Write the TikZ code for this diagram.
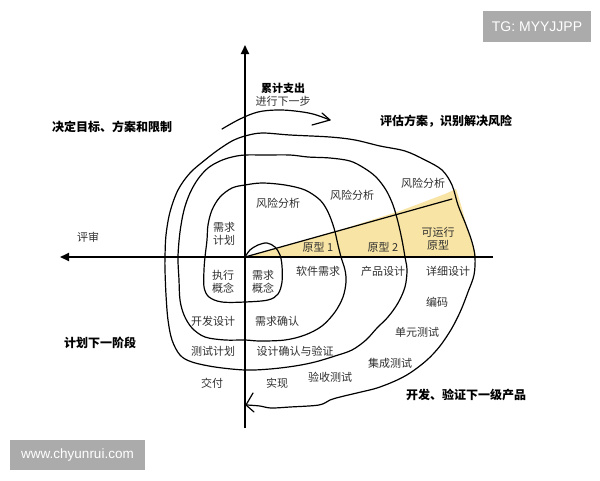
\documentclass[tikz,border=0pt]{standalone}
\usepackage{fontspec}
\setmainfont{Noto Sans CJK SC}
\newfontfamily\latinfont{Liberation Sans}
\usetikzlibrary{arrows.meta}
\definecolor{hlyellow}{HTML}{F8E4A4}
\definecolor{badgegray}{HTML}{ABABAB}
\definecolor{lblgray}{HTML}{303030}
\begin{document}
\begin{tikzpicture}[x=1pt,y=-1pt,
  curve/.style={line width=1.2pt, black, line join=round, line cap=round},
  axis/.style={line width=1.8pt, black},
  lbl/.style={font=\fontsize{11}{12.5}\selectfont, text=lblgray, inner sep=0pt, align=center},
  head/.style={font=\fontsize{12}{14}\selectfont\bfseries, text=black, inner sep=0pt, align=center},
  badge/.style={fill=badgegray, text=white, inner sep=0pt}]
\useasboundingbox (0,0) rectangle (600,480);
\fill[white] (0,0) rectangle (600,480);

% highlighted prototype wedge
\fill[hlyellow] (248,256) -- (340,230) -- (400,211) -- (445,194) -- (456,189) -- (461,205)
  -- (467,227) -- (473,245) -- (476,257) -- cycle;

% axes
\coordinate (O) at (245,257);
\coordinate (ytop) at (245,45);
\coordinate (ybot) at (245,428);
\coordinate (xl) at (60,257);
\coordinate (xr) at (493,257);
\draw[axis,-{Triangle[length=9pt,width=8pt]}] (ybot) -- (ytop);
\draw[axis,-{Triangle[length=9pt,width=8pt]}] (xr) -- (xl);

% spiral
\draw[curve] plot[smooth, tension=0.55] coordinates {
 (245,257) (250,250) (258,245) (267,243) (275,247) (280,255) (282,266) (282,282) (278,294)
 (268,300) (245,302) (222,302) (209,297) (204,287) (204,270) (205,257) (207,240) (208,225)
 (212,210) (220,197) (232,188) (245,185) (262,183) (285,185) (305,190) (320,200) (328,212)
 (334,228) (338,245) (341,257) (345,270) (346,282) (343,297) (335,312) (322,326) (305,335)
 (285,340) (260,341) (245,340) (225,340) (205,337) (192,328) (184,315) (180,300) (179,280)
 (178,257) (180,232) (184,210) (190,193) (198,179) (208,168) (220,161) (232,157) (245,155)
 (265,155) (290,155) (308,157) (330,158) (350,161) (364,168) (376,177) (386,190) (393,205)
 (398,222) (402,240) (405,257) (407,270) (405,287) (398,303) (388,317) (377,328) (366,340)
 (352,350) (335,356) (315,362) (295,366) (270,369) (245,370) (215,367) (192,362) (180,355)
 (172,340) (168,320) (166,295) (165,270) (165,257) (166,235) (170,212) (178,190) (190,173)
 (205,160) (218,150) (232,141) (245,136) (262,133) (290,135) (330,137) (355,140) (380,146)
 (405,151) (425,160) (442,170) (452,185) (458,205) (466,225) (472,242) (475,257) (474,275)
 (468,292) (461,310) (452,328) (440,346) (427,360) (410,373) (395,381) (377,388) (361,392)
 (340,397) (330,400) (319,405) (290,407) (271,408) (260,406) (247,405)};
\draw[curve] (253,393) -- (246,405) -- (254,412);

% prototype ray
\coordinate (rayend) at (452,199);
\draw[curve] (O) -- (rayend);

% top progress arc
\draw[curve] plot[smooth, tension=0.6] coordinates {
 (222,129) (240,119) (258,112) (277,110) (295,111) (313,114) (330,120)};
\draw[curve] (312,125) -- (330,120) -- (322,113);

% badges
\node[badge, minimum width=108pt, minimum height=31pt] (tg) at (537,26.5)
  {\latinfont\fontsize{14}{16}\selectfont TG: MYYJJPP};
\node[badge, minimum width=135pt, minimum height=30pt] (www) at (77.5,455)
  {\latinfont\fontsize{13.5}{16}\selectfont www.chyunrui.com};

% headings
\node[head, font=\fontsize{11}{12.5}\selectfont\bfseries] (cum1) at (283,88) {累计支出};
\node[lbl] (cum2) at (283,101) {进行下一步};
\node[head] (h1) at (112,127) {决定目标、方案和限制};
\node[head] (h2) at (446,121) {评估方案，识别解决风险};
\node[head] (h3) at (100,343) {计划下一阶段};
\node[head] (h4) at (466,395) {开发、验证下一级产品};
\node[lbl] (rev) at (88,237) {评审};

% spiral labels
\node[lbl] (r1) at (278,203) {风险分析};
\node[lbl] (r2) at (352,195) {风险分析};
\node[lbl] (r3) at (423,183) {风险分析};
\node[lbl] (plan) at (224,234) {需求\\计划};
\node[lbl] (p1) at (318,247) {原型 1};
\node[lbl] (p2) at (383,247) {原型 2};
\node[lbl] (p3) at (438,239) {可运行\\原型};
\node[lbl] (sw) at (318,271) {软件需求};
\node[lbl] (pd) at (383,271) {产品设计};
\node[lbl] (dd) at (448,271) {详细设计};
\node[lbl] (ex) at (223,282) {执行\\概念};
\node[lbl] (rq) at (263,282) {需求\\概念};
\node[lbl] (dev) at (213,321) {开发设计};
\node[lbl] (rc) at (277,321) {需求确认};
\node[lbl] (tp) at (213,351) {测试计划};
\node[lbl] (dv) at (295,351) {设计确认与验证};
\node[lbl] (dl) at (212,383) {交付};
\node[lbl] (im) at (277,383) {实现};
\node[lbl] (at) at (330,377) {验收测试};
\node[lbl] (it) at (390,363) {集成测试};
\node[lbl] (ut) at (417,332) {单元测试};
\node[lbl] (cd) at (437,302) {编码};
\end{tikzpicture}
\end{document}
